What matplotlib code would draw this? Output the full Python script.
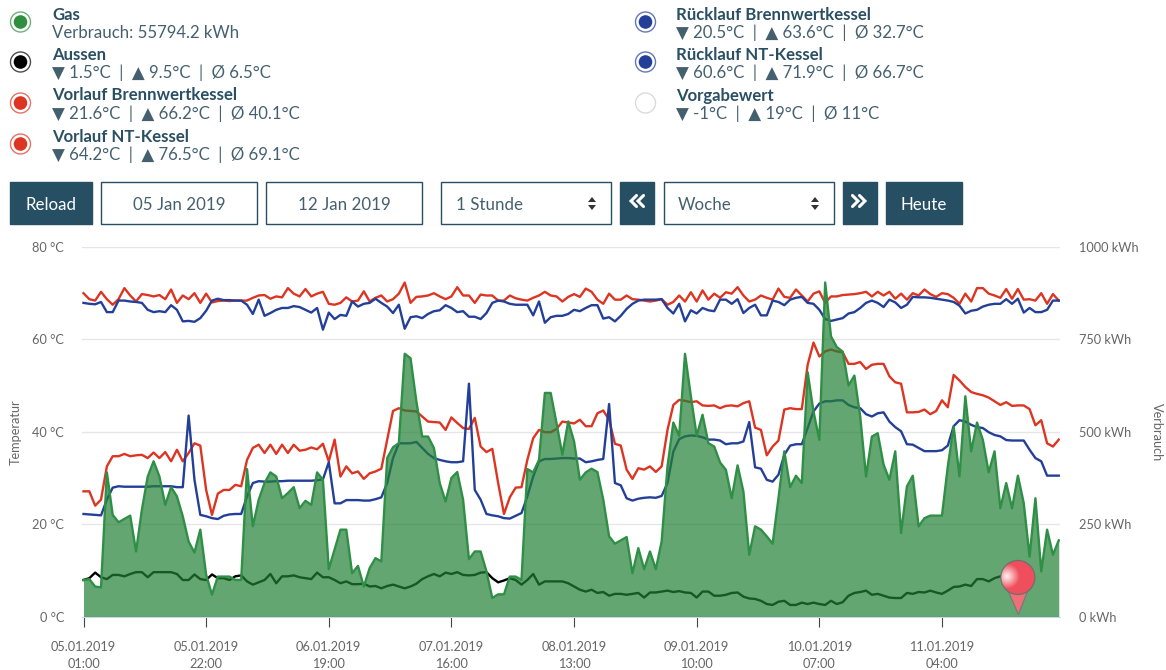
import numpy as np
import matplotlib
matplotlib.use("Agg")
import matplotlib.pyplot as plt
from matplotlib.patches import Circle, Rectangle, Polygon

plt.rcParams['font.family'] = ['Lato', 'DejaVu Sans']

tick_labels = ["05.01.2019\n01:00", "05.01.2019\n22:00", "06.01.2019\n19:00", "07.01.2019\n16:00",
               "08.01.2019\n13:00", "09.01.2019\n10:00", "10.01.2019\n07:00", "11.01.2019\n04:00"]

gas = [99,101,81,79,390,275,255,264,273,176,289,379,420,379,302,350,325,271,203,173,235,113,59,108,108,108,99,99,399,244,316,361,390,379,320,334,350,293,313,302,390,370,128,181,
       235,235,117,137,81,131,158,149,429,458,469,711,699,582,487,487,456,361,311,375,391,316,155,176,176,122,50,60,60,108,108,99,399,390,424,605,605,523,438,528,474,370,390,400,391,316,217,
       197,206,215,117,185,128,176,128,203,406,525,489,711,596,489,546,469,460,417,397,320,409,338,167,244,235,217,197,320,447,350,381,361,661,555,478,904,758,729,
       717,625,652,541,379,487,496,411,370,447,226,352,381,244,266,273,273,273,406,514,379,596,447,525,478,390,447,293,361,293,381,307,162,320,122,235,167,206]

aussen = [7.9,8.3,9.5,8.5,8.1,9.0,9.0,8.7,9.2,9.6,9.6,8.5,9.6,9.6,9.6,9.6,9.2,7.9,7.9,9.1,8.1,7.9,9.1,8.3,8.3,7.9,8.7,8.9,7.6,6.9,7.4,7.9,9.2,7.2,8.7,8.7,8.9,8.5,8.3,8.1,9.5,8.5,8.5,7.9,
          7.2,7.6,7.0,7.0,7.1,6.5,6.6,6.1,6.6,6.9,6.5,6.1,6.5,7.1,8.1,8.7,9.2,8.7,9.5,9.2,9.6,9.0,8.9,9.0,9.5,9.6,8.3,7.4,7.8,8.3,7.9,6.9,7.9,9.2,6.9,7.6,7.6,7.6,7.6,7.2,6.5,5.8,5.4,5.8,5.1,5.3,
          4.5,4.9,4.9,4.7,4.9,5.1,4.1,5.2,5.2,5.4,5.6,5.3,5.5,5.2,5.1,4.1,5.4,5.4,4.5,4.5,4.7,5.1,5.2,4.3,3.9,3.8,3.4,2.7,2.5,3.2,3.4,2.5,2.5,3.0,2.7,3.0,2.7,
          2.5,3.4,2.7,3.1,4.5,5.1,5.3,5.6,4.7,4.9,4.5,4.1,4.0,4.0,5.1,4.9,5.3,5.2,5.6,5.2,4.9,5.6,6.4,6.5,6.9,6.6,8.1,8.1,7.6,8.3,8.7,8.8,9.0,9.2]

vorlauf_bw = [27.1,27.1,24.0,25.3,32.5,34.7,34.7,35.2,34.7,34.9,35.0,34.3,35.5,34.3,35.6,33.6,36.1,33.6,35.4,37.5,37.0,27.4,22.0,26.6,27.4,27.4,28.5,28.2,33.9,36.5,37.2,35.4,37.2,35.2,37.2,35.4,37.2,35.9,36.1,36.6,36.2,37.4,33.6,38.3,
              30.3,32.5,31.0,31.4,29.8,31.0,31.4,32.0,38.3,44.5,45.1,44.6,44.5,44.4,43.3,42.2,42.1,42.0,40.4,43.1,41.9,40.8,40.6,43.0,36.8,35.6,36.3,28.9,22.2,25.8,27.9,28.0,33.9,38.6,40.4,39.9,39.9,40.6,42.2,42.0,41.8,42.6,41.2,41.2,44.0,44.6,42.6,
              37.4,37.0,31.8,29.8,32.1,31.8,32.5,31.3,32.5,40.4,45.8,46.9,46.7,46.4,46.6,45.7,45.6,45.7,45.1,45.6,45.7,45.5,46.2,46.6,40.9,40.4,34.9,36.8,38.1,44.8,45.1,44.9,44.9,54.5,59.3,56.3,57.4,57.8,57.4,
              57.2,54.7,54.7,55.1,53.6,54.5,54.7,54.7,52.0,50.7,50.4,44.2,44.2,44.3,44.8,43.8,44.5,46.8,45.3,52.3,51.1,49.7,48.6,48.2,47.9,47.4,46.6,45.8,46.4,45.6,45.7,45.7,44.9,41.4,42.5,37.5,36.8,38.3]

ruecklauf_bw = [22.2,22.1,22.0,21.9,25.3,27.9,28.2,28.1,28.1,28.1,28.1,28.1,28.2,28.2,28.2,28.2,28.0,28.0,43.5,29.6,22.0,21.7,21.3,21.1,21.8,22.1,22.2,22.2,26.0,28.9,29.3,29.2,29.2,29.3,29.3,29.4,29.4,29.4,29.4,29.4,29.5,29.7,33.4,24.5,
                24.5,25.2,25.2,25.2,25.1,25.1,25.4,25.8,28.9,34.3,37.5,37.5,37.5,37.8,36.5,35.2,34.3,33.9,33.6,33.4,33.4,33.6,50.4,27.4,25.3,22.2,21.9,21.7,21.3,21.2,21.8,22.4,26.0,30.3,33.6,34.1,34.1,34.2,34.3,34.3,34.2,34.2,33.4,33.6,33.9,34.1,46.0,
                28.9,28.4,25.6,25.1,25.5,25.7,25.8,25.7,26.1,28.9,35.7,38.4,39.0,39.2,39.1,38.8,38.3,38.3,38.1,37.3,37.5,37.5,37.9,42.1,32.3,32.0,29.6,29.2,30.7,35.0,37.0,37.3,37.3,40.8,44.4,46.1,46.6,46.6,46.8,
                46.8,45.8,45.3,45.1,43.8,43.3,44.0,44.2,42.2,41.0,40.1,37.3,37.2,36.5,35.8,35.8,35.8,36.0,37.0,41.2,42.5,42.2,41.5,41.0,40.8,39.9,39.3,39.0,38.2,38.1,38.1,38.1,36.1,34.3,33.6,30.5,30.5,30.5]

vorlauf_nt = [70.0,68.7,68.4,70.3,68.7,67.5,68.7,71.1,69.5,68.2,69.8,69.6,69.3,69.6,68.7,70.8,67.9,69.5,68.7,70.0,67.9,69.9,68.0,68.3,68.4,68.3,68.4,68.4,68.4,69.0,69.5,69.6,68.8,69.3,69.1,71.1,69.9,69.3,70.9,69.3,69.9,70.3,67.7,67.5,
              67.9,69.1,68.2,68.4,70.4,68.2,69.0,69.5,68.2,68.7,69.9,72.3,67.9,69.2,69.3,69.5,70.0,69.3,68.7,69.3,71.3,69.5,69.5,67.9,69.7,69.5,69.5,68.4,68.4,69.5,68.9,68.6,68.4,69.0,69.5,70.3,69.5,69.3,68.2,69.2,69.8,69.2,71.0,70.3,68.6,67.7,69.9,
              68.6,68.6,69.5,68.7,68.6,68.4,68.2,68.4,68.7,67.5,68.1,69.5,68.2,70.2,68.2,70.6,68.6,69.9,69.0,70.2,69.9,71.3,69.5,68.2,68.6,69.5,69.0,68.6,71.0,69.2,69.0,70.8,69.5,68.2,69.9,70.4,67.9,69.3,69.3,
              69.6,69.7,69.8,70.0,70.3,69.3,70.3,69.5,70.3,68.8,69.9,68.6,70.0,69.5,70.8,69.8,69.2,70.0,69.8,69.0,67.7,69.9,68.2,71.1,71.1,69.9,69.5,69.0,70.9,68.8,70.9,68.6,68.7,68.4,70.0,67.7,69.8,68.4]

ruecklauf_nt = [67.9,67.7,67.6,68.1,65.9,65.9,68.4,68.4,68.2,68.1,67.9,66.4,65.9,66.1,65.9,67.4,66.4,63.9,64.0,63.8,64.6,66.2,68.4,68.8,68.5,68.5,68.4,68.4,67.5,65.5,68.6,65.1,65.7,66.4,66.8,66.8,67.2,67.0,66.4,65.8,66.8,62.1,65.8,64.4,
                65.3,65.1,68.2,67.1,67.7,67.9,68.8,67.9,67.1,65.7,67.5,62.3,64.8,65.0,64.6,65.5,66.1,66.3,67.4,66.8,65.9,66.1,64.9,64.9,64.4,65.7,67.9,68.4,68.2,67.7,67.5,67.5,67.5,65.2,68.2,63.6,64.8,65.1,65.1,65.5,66.4,66.1,66.8,67.4,67.4,64.5,64.8,
                63.9,65.1,66.6,67.7,68.4,68.6,68.6,68.6,68.7,66.8,65.6,67.7,63.9,66.3,65.6,66.8,66.3,66.1,68.6,68.6,67.7,68.7,65.7,66.8,67.5,65.2,65.2,68.4,68.1,67.4,68.6,69.0,69.2,67.9,67.7,66.4,64.4,64.0,64.3,
                64.6,65.6,65.9,66.8,67.9,68.4,67.9,67.0,68.6,68.0,66.8,67.5,69.2,69.1,69.1,69.0,68.8,68.6,68.4,68.1,67.3,65.6,66.2,66.4,67.1,67.5,67.7,67.7,68.7,67.7,68.8,65.8,66.8,65.9,65.9,66.4,68.4,68.4]

for s in (gas, vorlauf_bw, ruecklauf_bw, vorlauf_nt, ruecklauf_nt):
    assert len(s) == 168, len(s)
assert len(aussen) == 161, len(aussen)

hours = np.arange(168)
W, H = 1166, 670
fig = plt.figure(figsize=(W / 100, H / 100), dpi=100, facecolor='white')

GREY = '#666666'
RED = '#dc3522'
BLUE = '#233f98'
NAVY = '#264f63'
GREEN = '#2f8f46'

ax = fig.add_axes([82 / W, (H - 616.5) / H, 978 / W, 369.5 / H])
ax.set_xlim(-0.257, 167.21)
ax.set_ylim(0, 80)
LW = 1.7
ax.plot(hours[:len(aussen)], aussen, color='black', lw=LW, zorder=2)
ax.plot(hours, vorlauf_bw, color=RED, lw=LW, zorder=3)
ax.plot(hours, vorlauf_nt, color=RED, lw=LW, zorder=3)
ax.plot(hours, ruecklauf_bw, color=BLUE, lw=LW, zorder=3)
ax.plot(hours, ruecklauf_nt, color=BLUE, lw=LW, zorder=3)
ax.set_yticks([0, 20, 40, 60, 80])
ax.set_yticklabels(['0 °C', '20 °C', '40 °C', '60 °C', '80 °C'])
ax.set_xticks(hours[::21])
ax.set_xticklabels(tick_labels, linespacing=1.5)
ax.tick_params(axis='x', length=7.5, width=0.8, color='#444444', labelcolor=GREY, labelsize=9.2, pad=10)
ax.tick_params(axis='y', length=0, labelcolor=GREY, labelsize=9.2, pad=13)
ax.grid(axis='y', color='#e6e6e6', lw=1, zorder=0)
ax.set_axisbelow(True)
for k, sp in ax.spines.items():
    sp.set_visible(k == 'bottom')
ax.spines['bottom'].set_color('#ccd6eb')
ax.patch.set_alpha(0)
ax.set_ylabel('Temperatur', color=GREY, fontsize=9.2)
ax.yaxis.set_label_coords((22 - 82) / 978, 0.5)

ax2 = ax.twinx()
ax2.set_ylim(0, 1000)
ax2.fill_between(hours, gas, 0, color='#228035', alpha=0.70, lw=0, zorder=4)
ax2.plot(hours, gas, color=GREEN, lw=LW, zorder=5)
ax2.set_yticks([0, 250, 500, 750, 1000])
ax2.set_yticklabels(['0 kWh', '250 kWh', '500 kWh', '750 kWh', '1000 kWh'])
ax2.tick_params(axis='y', length=0, labelcolor=GREY, labelsize=9.2, pad=13.5)
for sp in ax2.spines.values():
    sp.set_visible(False)
ax2.set_ylabel('Verbrauch', color=GREY, fontsize=9.2, rotation=-90, va='center')
ax2.yaxis.set_label_coords((1157 - 82) / 978, 0.5)

# page furniture drawn in pixel coordinates
ui = fig.add_axes([0, 0, 1, 1], zorder=10)
ui.set_xlim(0, W)
ui.set_ylim(H, 0)
ui.axis('off')
ui.patch.set_alpha(0)

TXT = '#2a4f63'
legend_entries = [
    (20.5, 22, 52, 'Gas', 'Verbrauch: 55794.2 kWh', '#2f8f3f', '#2f8f3f'),
    (20.5, 62, 52, 'Aussen', '▼ 1.5°C  |  ▲ 9.5°C  |  Ø 6.5°C', '#000000', '#000000'),
    (20.5, 103, 52, 'Vorlauf Brennwertkessel', '▼ 21.6°C  |  ▲ 66.2°C  |  Ø 40.1°C', RED, RED),
    (20.5, 144, 52, 'Vorlauf NT-Kessel', '▼ 64.2°C  |  ▲ 76.5°C  |  Ø 69.1°C', RED, RED),
    (645.5, 22, 676, 'Rücklauf Brennwertkessel', '▼ 20.5°C  |  ▲ 63.6°C  |  Ø 32.7°C', BLUE, BLUE),
    (645.5, 62, 676, 'Rücklauf NT-Kessel', '▼ 60.6°C  |  ▲ 71.9°C  |  Ø 66.7°C', BLUE, BLUE),
    (645.5, 103, 676, 'Vorgabewert', '▼ -1°C  |  ▲ 19°C  |  Ø 11°C', '#ffffff', '#cccccc'),
]
for cx, cy, tx, name, stats, col, ring in legend_entries:
    ui.add_patch(Circle((cx, cy), 10, fc='white', ec=matplotlib.colors.to_rgba(ring, 0.7), lw=1.0))
    ui.add_patch(Circle((cx, cy), 6.8, fc=col, ec='none'))
    ui.text(tx, cy - 7.5, name, fontsize=12.1, fontweight='bold', color=TXT, ha='left', va='center')
    ui.text(tx, cy + 10.5, stats, fontsize=12.1, color='#44606f', ha='left', va='center')


def box(x0, x1, label=None, filled=False, align='center', lx=None):
    ui.add_patch(Rectangle((x0, 182), x1 - x0 - 0.5, 42, fc=NAVY if filled else 'white', ec=NAVY, lw=1.0))
    if label:
        c = 'white' if filled else '#44606f'
        if align == 'center':
            ui.text((x0 + x1) / 2, 205, label, fontsize=12.2, color=c, ha='center', va='center')
        else:
            ui.text(lx, 205, label, fontsize=12.2, color=c, ha='left', va='center')


def updown(x):
    ui.add_patch(Polygon([(x - 4, 202), (x + 4, 202), (x, 197)], fc='#333333', ec='none'))
    ui.add_patch(Polygon([(x - 4, 205), (x + 4, 205), (x, 210)], fc='#333333', ec='none'))


def chevrons(x0, direction):
    # two thick chevrons, pointing left (-1) or right (+1)
    for off in (0, 7):
        xs = [x0 + off + 3.5, x0 + off - 2, x0 + off + 3.5] if direction < 0 else [x0 + off - 3.5, x0 + off + 2, x0 + off - 3.5]
        ui.plot(xs, [195.5, 201, 206.5], color='white', lw=2.2, solid_capstyle='round', solid_joinstyle='miter')


box(10, 92, 'Reload', True)
box(101, 257, '05 Jan 2019')
box(266, 422, '12 Jan 2019')
box(441, 611, '1 Stunde', align='left', lx=456)
updown(592)
box(620, 654, None, True)
chevrons(633, -1)
box(664, 834, 'Woche', align='left', lx=678)
updown(815)
box(843, 877, None, True)
chevrons(856, 1)
box(886, 962, 'Heute', True)

# position marker at the last measured hour
px, py = ax.transData.transform((hours[len(aussen) - 1], 0))
py = H - py
cy = py - 39
ui.add_patch(Polygon([(px - 10, cy + 13), (px + 10, cy + 13), (px + 0.5, py - 2)], fc='#ee6f78', ec='#777777', lw=0.8))
ball = Circle((px, cy), 17, fc='#ef4f5c', ec='#6f6f6f', lw=0.9)
ui.add_patch(ball)
yy, xx = np.mgrid[-1:1:80j, -1:1:80j]
glow = np.clip(1 - np.hypot(xx + 0.65, yy + 0.05) / 0.75, 0, 1)
rgba = np.zeros((80, 80, 4))
rgba[..., :3] = 1
rgba[..., 3] = glow * 0.95
im = ui.imshow(rgba, extent=(px - 17, px + 17, cy + 17, cy - 17), aspect='auto', zorder=5)
im.set_clip_path(Circle((px, cy), 16.5, transform=ui.transData))
ui.set_xlim(0, W)
ui.set_ylim(H, 0)

fig.savefig('out.png', dpi=100, facecolor='white')
